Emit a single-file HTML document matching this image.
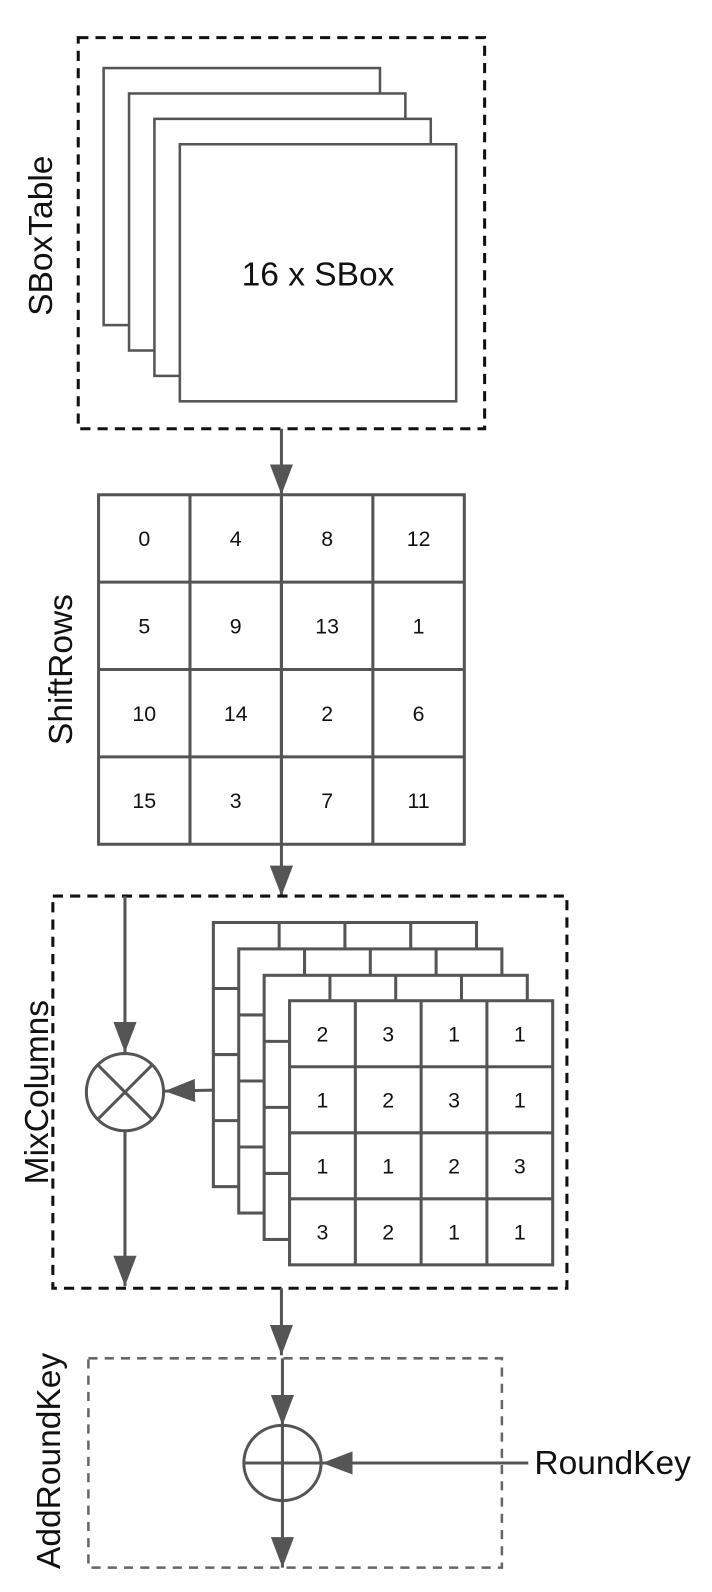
<!DOCTYPE html>
<html><head><meta charset="utf-8"><style>
html,body{margin:0;padding:0;background:#fff;}
svg{display:block;}
text{font-family:"Liberation Sans",Arial,sans-serif;fill:#111;}
</style></head><body>
<svg id="diagram" width="712" height="1592" viewBox="0 0 700.8 1567" xmlns="http://www.w3.org/2000/svg">
<defs>
<marker id="ah" viewBox="0 0 10 10" refX="10" refY="5" markerWidth="10" markerHeight="10" markerUnits="strokeWidth" orient="auto">
<path d="M0,1.2 L10,5 L0,8.8 z" fill="#555"/>
</marker>
</defs>

<g>
<rect x="77" y="37" width="400" height="385" fill="none" stroke="#111" stroke-width="3" stroke-dasharray="10,7"/>
<rect x="102" y="67" width="272" height="253" fill="#fff" stroke="#555" stroke-width="2.5"/>
<rect x="127" y="92" width="272" height="253" fill="#fff" stroke="#555" stroke-width="2.5"/>
<rect x="152" y="117" width="272" height="253" fill="#fff" stroke="#555" stroke-width="2.5"/>
<rect x="177" y="142" width="272" height="253" fill="#fff" stroke="#555" stroke-width="2.5"/>
<text x="313" y="281" font-size="33" text-anchor="middle">16 x SBox</text>
<text transform="translate(51,232) rotate(-90)" font-size="33" text-anchor="middle">SBoxTable</text>
</g>

<line x1="277" y1="422" x2="277" y2="487" stroke="#555" stroke-width="3" marker-end="url(#ah)"/>

<g id="shiftrows"></g>
<text transform="translate(71,659) rotate(-90)" font-size="33" text-anchor="middle">ShiftRows</text>
<line x1="277" y1="487" x2="277" y2="831" stroke="#555" stroke-width="3"/>
<line x1="277" y1="831" x2="277" y2="882" stroke="#555" stroke-width="3" marker-end="url(#ah)"/>

<rect x="52" y="882" width="506" height="386" fill="none" stroke="#111" stroke-width="3" stroke-dasharray="10,7"/>
<g id="mix"></g>
<text transform="translate(47,1075) rotate(-90)" font-size="33" text-anchor="middle">MixColumns</text>
<line x1="123" y1="882" x2="123" y2="1036" stroke="#555" stroke-width="3" marker-end="url(#ah)"/>
<g>
<circle cx="123" cy="1075" r="38" fill="#fff" stroke="#555" stroke-width="3"/>
<line x1="96" y1="1048" x2="150" y2="1102" stroke="#555" stroke-width="3"/>
<line x1="150" y1="1048" x2="96" y2="1102" stroke="#555" stroke-width="3"/>
</g>
<line x1="210" y1="1073" x2="162" y2="1074" stroke="#555" stroke-width="3" marker-end="url(#ah)"/>
<line x1="123" y1="1113" x2="123" y2="1266" stroke="#555" stroke-width="3" marker-end="url(#ah)"/>

<line x1="277" y1="1268" x2="277" y2="1334" stroke="#555" stroke-width="3" marker-end="url(#ah)"/>

<rect x="87" y="1337" width="407" height="206" fill="none" stroke="#666" stroke-width="2.5" stroke-dasharray="9,7"/>
<text transform="translate(59,1438) rotate(-90)" font-size="33" text-anchor="middle">AddRoundKey</text>
<line x1="278" y1="1337" x2="278" y2="1403" stroke="#555" stroke-width="3" marker-end="url(#ah)"/>
<g>
<ellipse cx="278" cy="1440" rx="38" ry="37" fill="#fff" stroke="#555" stroke-width="3"/>
<line x1="240" y1="1440" x2="316" y2="1440" stroke="#555" stroke-width="3"/>
<line x1="278" y1="1403" x2="278" y2="1477" stroke="#555" stroke-width="3"/>
</g>
<line x1="278" y1="1477" x2="278" y2="1543" stroke="#555" stroke-width="3" marker-end="url(#ah)"/>
<line x1="520" y1="1440" x2="317" y2="1440" stroke="#555" stroke-width="3" marker-end="url(#ah)"/>
<text x="526" y="1451" font-size="33">RoundKey</text>
</svg>
<script>
const shiftRowsValues = [[0,4,8,12],[5,9,13,1],[10,14,2,6],[15,3,7,11]];
const mixMatrixValues = [[2,3,1,1],[1,2,3,1],[1,1,2,3],[3,2,1,1]];
const NS = "http://www.w3.org/2000/svg";
function mk(tag, attrs, parent){const e=document.createElementNS(NS,tag);for(const k in attrs)e.setAttribute(k,attrs[k]);parent.appendChild(e);return e;}
function grid(parent, x, y, w, h, vals, fs, name){
  const g = mk('g',{},parent);
  
  
  const cw=w/4, ch=h/4;
  mk('rect',{x:x,y:y,width:w,height:h,fill:'#fff',stroke:'#555','stroke-width':3},g);
  for(let i=1;i<4;i++){
    mk('line',{x1:x+i*cw,y1:y,x2:x+i*cw,y2:y+h,stroke:'#555','stroke-width':3},g);
    mk('line',{x1:x,y1:y+i*ch,x2:x+w,y2:y+i*ch,stroke:'#555','stroke-width':3},g);
  }
  if(vals){
    for(let r=0;r<4;r++)for(let c=0;c<4;c++){
      const t=mk('text',{x:x+(c+0.5)*cw,y:y+(r+0.5)*ch+7.5,'font-size':fs,'text-anchor':'middle'},g);
      
      
      t.textContent=vals[r][c];
    }
  }
}
grid(document.getElementById('shiftrows'),97,487,360,344,shiftRowsValues,21,'shiftrows-table');
const mix=document.getElementById('mix');
grid(mix,210,908,259,260,null,21,'matrix-layer-1');
grid(mix,235,934,259,260,null,21,'matrix-layer-2');
grid(mix,260,960,259,260,null,21,'matrix-layer-3');
grid(mix,285,985,259,260,mixMatrixValues,21,'mix-matrix-front');
</script>
</body></html>
